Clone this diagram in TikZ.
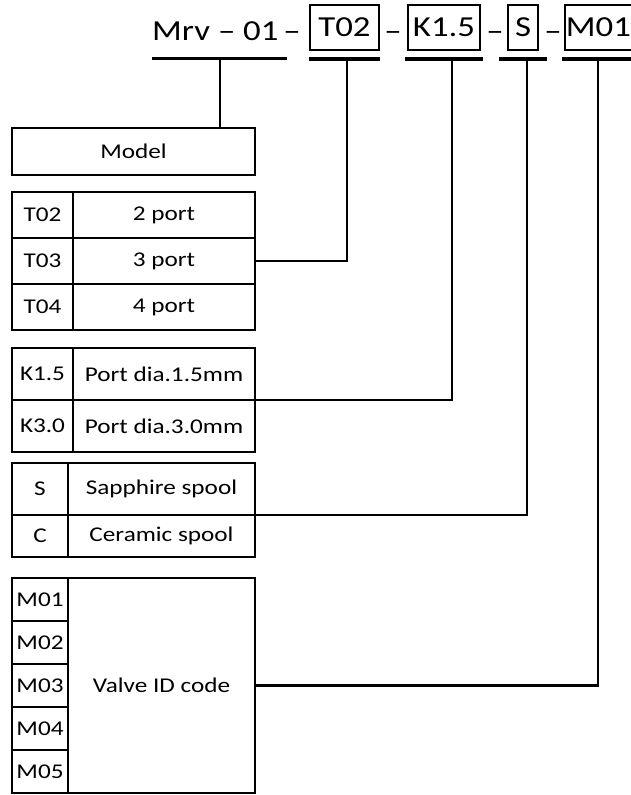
\documentclass[tikz,border=0pt]{standalone}
\usepackage{fontspec}
\setmainfont[FakeStretch=1.2]{Carlito}
\usepackage{tikz}
\usetikzlibrary{positioning}
\tikzset{
	order code/.style={
		x=1pt,y=-1pt,
		node distance=0pt,
		font=\fontsize{21}{25}\selectfont
	},
	code part/.style={
		inner sep=0pt,
		anchor=base,
		font=\fontsize{29}{34}\selectfont
	},
	code box/.style={
		draw,
		line width=1.8pt,
		inner xsep=1pt,
		minimum height=45pt,
		font=\fontsize{29}{34}\selectfont
	},
	code rule/.style={line width=3.4pt},
	leader/.style={line width=2.2pt},
	cell/.style={
		draw,
		line width=2.7pt,
		inner sep=0pt,
		outer sep=0pt
	},
	t key/.style={cell,minimum width=61pt},
	t value/.style={cell,minimum width=182pt},
	s key/.style={cell,minimum width=56pt},
	s value/.style={cell,minimum width=187pt}
}

\begin{document}
\begin{tikzpicture}[order code]
	\useasboundingbox (0,0) rectangle (631,795);
	% order code
	\node[code part,anchor=base west] (hmodel) at (152,40) {Mrv – 01};
	\node[code part] (d1) at (292,40) {–};
	\node[code box,minimum width=69pt] (htype) at (344.5,27.5) {T02};
	\node[code part] (d2) at (393,40) {–};
	\node[code box,minimum width=72pt] (hport) at (444,27.5) {K1.5};
	\node[code part] (d3) at (495,40) {–};
	\node[code box,minimum width=30pt] (hspool) at (523,27.5) {S};
	\node[code part] (d4) at (553,40) {–};
	\node[code box,minimum width=67pt] (hid) at (598.5,27.5) {M01};
	\draw[code rule] ([yshift=-18pt]hmodel.south west) -- ([yshift=-18pt,xshift=8pt]hmodel.south east);
	\foreach \b/\e in {htype/0,hport/2,hspool/8,hid/2}
		\draw[code rule] ([yshift=-8pt,xshift=-\e pt]\b.south west) -- ([yshift=-8pt,xshift=\e pt]\b.south east);
	\coordinate (s-model) at (220,58);
	\coordinate (s-type) at (347,58);
	\coordinate (s-port) at (452,58);
	\coordinate (s-spool) at (527,58);
	\coordinate (s-id) at (598,58);
	% model
	\node[cell,minimum width=243pt,minimum height=47pt] (model) at (133.5,151.5) {Model};
	% ports
	\node[t key,minimum height=46pt] (t02) at (42.5,215) {T02};
	\node[t key,minimum height=46pt,below=of t02] (t03) {T03};
	\node[t key,minimum height=46pt,below=of t03] (t04) {T04};
	\node[t value,minimum height=46pt,right=of t02] (t02v) {2 port};
	\node[t value,minimum height=46pt,right=of t03] (t03v) {3 port};
	\node[t value,minimum height=46pt,right=of t04] (t04v) {4 port};
	% port diameter
	\node[t key,minimum height=52pt] (k15) at (42.5,374) {K1.5};
	\node[t key,minimum height=52pt,below=of k15] (k30) {K3.0};
	\node[t value,minimum height=52pt,right=of k15] (k15v) {Port dia.1.5mm};
	\node[t value,minimum height=52pt,right=of k30] (k30v) {Port dia.3.0mm};
	% spool
	\node[s key,minimum height=52pt] (ss) at (40,489) {S};
	\node[s key,minimum height=42pt,below=of ss] (sc) {C};
	\node[s value,minimum height=52pt,right=of ss] (ssv) {Sapphire spool};
	\node[s value,minimum height=42pt,right=of sc] (scv) {Ceramic spool};
	% valve id
	\node[s key,minimum height=43pt] (m01) at (40,599.5) {M01};
	\foreach \i [remember=\i as \j (initially 1)] in {2,...,5}
		\node[s key,minimum height=43pt,below=of m0\j] (m0\i) {M0\i};
	\node[s value,minimum height=215pt] (mval) at (161.5,685.5) {Valve ID code};
	% leaders
	\draw[leader] (s-model) -- (s-model |- model.north);
	\draw[leader] (s-type) |- (t03v.east);
	\draw[leader] (s-port) |- (k15v.south east);
	\draw[leader] (s-spool) |- (ssv.south east);
	\draw[leader] (s-id) |- (mval.east);
\end{tikzpicture}
\end{document}
